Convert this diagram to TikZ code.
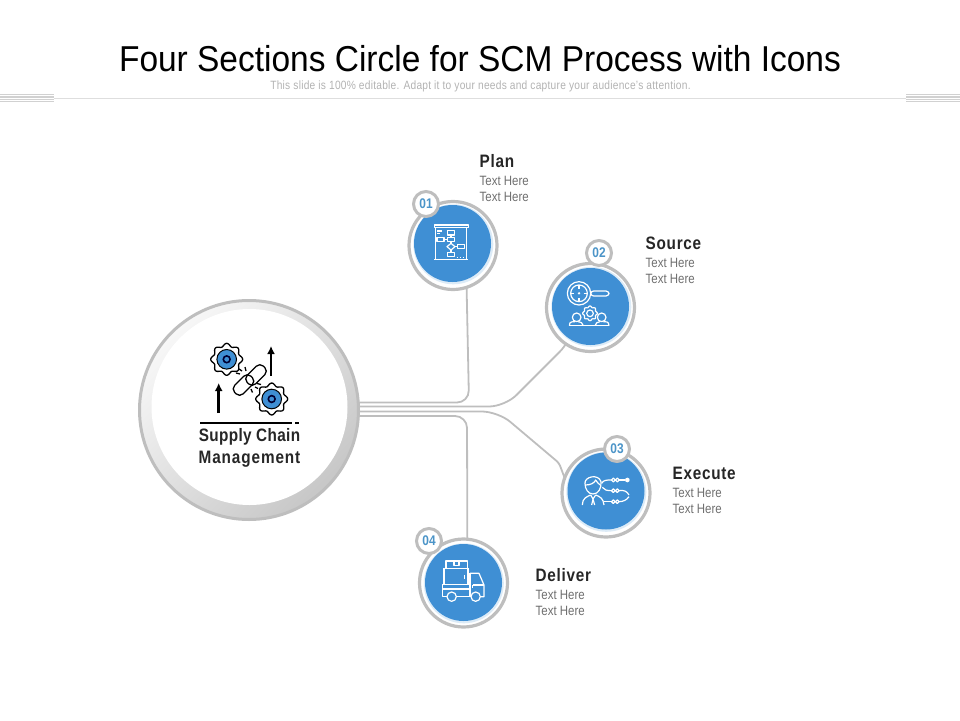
\documentclass[tikz,border=0pt]{standalone}
\usepackage{fontspec}
\setmainfont{Liberation Sans}[FakeStretch=0.85]
\newfontfamily\titlefont{Liberation Sans}[FakeStretch=0.93]
\usetikzlibrary{shadings, arrows.meta}

\definecolor{discblue}{HTML}{3F8FD4}
\definecolor{ringgray}{HTML}{BEBEBE}
\definecolor{numblue}{HTML}{4B94C8}
\definecolor{headdark}{HTML}{262626}
\definecolor{subgray}{HTML}{6E6E6E}

\tikzset{
    ringnode/.style={circle, draw=ringgray, fill=white, line width=3.2pt, minimum size=88pt, inner sep=0pt, outer sep=0pt},
    halonode/.style={circle, fill=discblue!18, minimum size=80pt, inner sep=0pt, outer sep=0pt},
    discnode/.style={circle, fill=discblue, minimum size=77pt, inner sep=0pt, outer sep=0pt},
    badgenode/.style={circle, draw=ringgray, fill=white, line width=3pt, minimum size=25pt, inner sep=0pt, outer sep=0pt, text=numblue, font=\bfseries\fontsize{14}{14}\selectfont},
    headnode/.style={anchor=west, inner sep=0pt, text=headdark, font=\bfseries\fontsize{18}{18}\selectfont\addfontfeature{LetterSpace=4}},
    subnode/.style={anchor=west, inner sep=0pt, text=subgray, font=\fontsize{13.5}{13.5}\selectfont},
    wire/.style={draw=ringgray, line width=1.8pt, rounded corners=12pt},
    iconline/.style={draw=white, line width=1.2pt, line join=round},
    blackline/.style={draw=black, line width=1.3pt},
    uparrow/.style={-{Latex[length=8pt,width=8pt]}, black, line width=2.5pt},
    linknode/.style={draw=black, line width=1.3pt, rounded corners=5pt, minimum width=23pt, minimum height=12pt, inner sep=0pt, rotate=45},
}

\newcommand{\gearmark}[4]{%
    \draw[#4] plot[domain=0:360, samples=121, smooth cycle] ({#1+#3*(1+0.1*cos(8*\x))*cos(\x)},{#2+#3*(1+0.1*cos(8*\x))*sin(\x)});
}

\begin{document}
\begin{tikzpicture}[x=1pt, y=-1pt]
    \useasboundingbox (0,0) rectangle (960,720);
    % Header:
    \node[inner sep=0pt, text=black, font=\titlefont\fontsize{36}{36}\selectfont] (title) at (480,59) {Four Sections Circle for SCM Process with Icons};
    \node[inner sep=0pt, text=black!30, font=\fontsize{12}{12}\selectfont\addfontfeature{LetterSpace=2}] (subtitle) at (480.5,86.5) {This slide is 100\% editable. Adapt it to your needs and capture your audience's attention.};
    \draw[black!13, line width=1pt] (54,98.5) -- (906,98.5);
    \foreach \y in {94,95.8,...,103} {
        \draw[black!18, line width=0.6pt] (0,\y) -- (54,\y);
        \draw[black!18, line width=0.6pt] (906,\y) -- (960,\y);
    }

    % Big circle:
    \node[circle, draw=ringgray, line width=3pt, minimum size=219pt, inner sep=0pt, outer sep=0pt, top color=black!3, middle color=black!5, bottom color=black!22, shading angle=45] (scm) at (249,410) {};
    \node[circle, fill=white, minimum size=196pt, inner sep=0pt, outer sep=0pt] (scminner) at (249.5,407) {};

    % Circles, numbers and labels:
    \node[ringnode] (plan) at (453,245.5) {};
    \node[halonode] (planhalo) at (453.3,244.3) {};
    \node[discnode] (plandisc) at (452.5,243.5) {};
    \node[badgenode] (plannum) at (426,204) {01};
    \node[headnode] (planhead) at (479.5,161.5) {Plan};
    \node[subnode] (plansub1) at (479.5,180.5) {Text Here};
    \node[subnode] (plansub2) at (479.5,196.5) {Text Here};

    \node[ringnode] (source) at (590.5,307.5) {};
    \node[halonode] (sourcehalo) at (591.3,306.8) {};
    \node[discnode] (sourcedisc) at (590.5,306.5) {};
    \node[badgenode] (sourcenum) at (599,253) {02};
    \node[headnode] (sourcehead) at (645.5,243.5) {Source};
    \node[subnode] (sourcesub1) at (645.5,262.5) {Text Here};
    \node[subnode] (sourcesub2) at (645.5,278.5) {Text Here};

    \node[ringnode] (execute) at (606,493) {};
    \node[halonode] (executehalo) at (606.3,491.8) {};
    \node[discnode] (executedisc) at (606,491) {};
    \node[badgenode] (executenum) at (617,449) {03};
    \node[headnode] (executehead) at (672.5,473.5) {Execute};
    \node[subnode] (executesub1) at (672.5,492.5) {Text Here};
    \node[subnode] (executesub2) at (672.5,508.5) {Text Here};

    \node[ringnode] (deliver) at (463.5,583) {};
    \node[halonode] (deliverhalo) at (463.8,583.3) {};
    \node[discnode] (deliverdisc) at (463.5,582.5) {};
    \node[badgenode] (delivernum) at (429,541) {04};
    \node[headnode] (deliverhead) at (535.5,575.5) {Deliver};
    \node[subnode] (deliversub1) at (535.5,594.5) {Text Here};
    \node[subnode] (deliversub2) at (535.5,610.5) {Text Here};

    % Wires:
    \draw[wire] ([yshift=7.5pt]scm.east) -- (469,402.5) -- (plan.-72);
    \draw[wire, rounded corners=16pt] ([yshift=3.5pt]scm.east) -- (505,406.5) [rounded corners=3pt] -- (562,349.5) -- (source.-124);
    \draw[wire, rounded corners=16pt] ([yshift=-1.5pt]scm.east) -- (498,411.5) [rounded corners=3pt] -- (559,463) -- (execute.160);
    \draw[wire] ([yshift=-6pt]scm.east) -- (467,416) -- (deliver.85);

    % Supply chain icon:
    \gearmark{226.7}{359.3}{14.5}{blackline, fill=white}
    \fill[discblue, draw=black, line width=1pt] (226.7,359.3) circle (9.8);
    \draw[draw=black!80!blue, line width=1.6pt] (226.7,359.3) circle (3.4);
    \gearmark{271.7}{399}{14.5}{blackline, fill=white}
    \fill[discblue, draw=black, line width=1pt] (271.7,399) circle (9.8);
    \draw[draw=black!80!blue, line width=1.6pt] (271.7,399) circle (3.4);
    \draw[uparrow] (218.7,413) -- (218.7,383);
    \draw[uparrow] (271,376) -- (271,346);
    \node[linknode] (linkone) at (243.5,385) {};
    \node[linknode] (linktwo) at (256,375) {};
    \draw[blackline] (239,369) -- (242,371) (245,367) -- (246,371) (236,373) -- (240,374);
    \draw[blackline] (255,387) -- (258,388.5) (251,389) -- (252.5,392.5) (257,383.5) -- (261,384.5);
    \draw[black, line width=1.6pt] (200,422.7) -- (292,422.7) (295,422.7) -- (299,422.7);
    \node[inner sep=0pt, text=headdark, font=\bfseries\fontsize{18}{18}\selectfont\addfontfeature{LetterSpace=2}] (scmline1) at (249.5,436.5) {Supply Chain};
    \node[inner sep=0pt, text=headdark, font=\bfseries\fontsize{18}{18}\selectfont\addfontfeature{LetterSpace=5}] (scmline2) at (249.5,459.5) {Management};

    % Plan icon:
    \begin{scope}[shift={(400,145)}, x=0.3333pt, y=-0.3333pt]
        \draw[iconline] (103,240) rectangle (205,247);
        \draw[iconline] (107,247) -- (107,343) (200,247) -- (200,343) (103,343) -- (205,343);
        \draw[iconline] (111,258) -- (127,258) (111,265) -- (120,265);
        \draw[iconline] (143,257) rectangle (163,270) (111,278) rectangle (132,290) (143,278) rectangle (163,290);
        \draw[iconline] (132,284) -- (143,284) (153,270) -- (153,278) (153,290) -- (153,295);
        \draw[iconline] (153,295) -- (165,305) -- (153,315) -- (141,305) -- cycle;
        \draw[iconline] (172,298) rectangle (193,310) (165,305) -- (172,305) (153,315) -- (153,323);
        \draw[iconline] (143,323) rectangle (163,335);
        \draw[iconline, dotted] (170,338) -- (196,338);
    \end{scope}

    % Source icon:
    \begin{scope}[shift={(540,230)}, x=0.3333pt, y=-0.3333pt]
        \draw[iconline] (117,190) circle (35) (117,190) circle (25);
        \fill[white] (117,190) circle (4);
        \draw[iconline] (117,165) -- (117,176) (117,204) -- (117,215) (92,190) -- (103,190) (131,190) -- (142,190);
        \draw[iconline, rounded corners=3pt] (152,183) rectangle (207,198);
        \gearmark{150}{250}{20}{iconline}
        \draw[iconline] (150,250) circle (10);
        \draw[iconline] (110,262) circle (13) (185,262) circle (13);
        \draw[iconline] (88,287) .. controls (88,272) and (100,276) .. (105,275) (115,275) .. controls (122,276) and (128,278) .. (130,287);
        \draw[iconline] (207,287) .. controls (207,272) and (195,276) .. (190,275) (180,275) .. controls (173,276) and (167,278) .. (165,287);
        \draw[iconline] (88,287) -- (207,287);
    \end{scope}

    % Execute icon:
    \begin{scope}[shift={(555,430)}, x=0.3333pt, y=-0.3333pt]
        \draw[iconline] (90,160) .. controls (88,140) and (130,130) .. (138,155) .. controls (140,175) and (130,192) .. (114,192) .. controls (100,192) and (90,178) .. (90,160) -- cycle;
        \draw[iconline] (92,165) .. controls (105,165) and (118,160) .. (122,150) .. controls (126,158) and (132,162) .. (136,165);
        \draw[iconline] (82,225) .. controls (82,205) and (95,200) .. (107,195) (122,195) .. controls (135,200) and (145,205) .. (147,225);
        \draw[iconline] (107,195) -- (114,207) -- (122,195) (110,225) -- (114,207) -- (119,225);
        \draw[iconline] (140,160) .. controls (145,150) and (155,150) .. (169,150);
        \draw[iconline] (175,150) circle (5.5) (187,150) circle (5.5);
        \draw[iconline] (192,150) -- (210,150);
        \fill[white] (217,150) circle (7);
        \draw[iconline] (142,172) .. controls (148,180) and (155,182) .. (169,182);
        \draw[iconline] (175,182) circle (5.5) (187,182) circle (5.5);
        \draw[iconline] (192,182) .. controls (205,180) and (215,182) .. (222,195);
        \draw[iconline] (147,215) -- (169,215);
        \draw[iconline] (175,215) circle (5.5) (187,215) circle (5.5);
        \draw[iconline] (192,215) .. controls (205,215) and (215,210) .. (222,200);
    \end{scope}

    % Deliver icon:
    \begin{scope}[shift={(410,525)}, x=0.3333pt, y=-0.3333pt]
        \draw[iconline] (108,108) rectangle (172,130);
        \draw[iconline] (132,108) -- (132,122) -- (147,122) -- (147,108);
        \draw[iconline] (102,130) -- (102,178) (174,130) -- (174,178) (102,130) -- (174,130);
        \draw[iconline] (97,178) rectangle (180,192);
        \draw[iconline] (163,150) -- (163,162);
        \draw[iconline] (97,192) -- (97,215) -- (110,215) (140,215) -- (183,215);
        \draw[iconline] (180,145) -- (207,145) -- (222,180) -- (222,215) -- (212,215);
        \draw[iconline] (180,145) -- (180,215);
        \draw[iconline] (188,180) -- (222,180) (188,180) -- (188,190);
        \draw[iconline] (125,215) circle (14) (197,215) circle (14);
    \end{scope}
\end{tikzpicture}
\end{document}
